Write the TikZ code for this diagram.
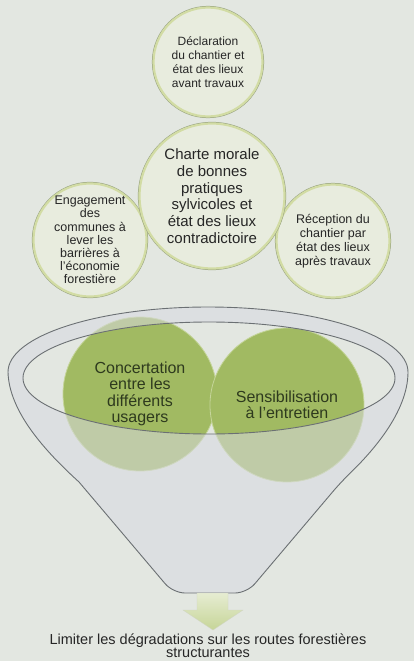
\documentclass[tikz,border=0pt]{standalone}
\usepackage{xcolor}
\usepackage{fontspec}
\setmainfont{Liberation Sans}
\usepackage{tikz}
\usetikzlibrary{positioning}

\definecolor{bgpaper}{HTML}{E3E7E1}
\definecolor{palefill}{HTML}{E8ECDE}
\definecolor{paleband}{HTML}{D2DCA4}
\definecolor{paleedge}{HTML}{97A27F}
\definecolor{leafgreen}{HTML}{A1BA62}
\definecolor{leafedge}{HTML}{C5D59A}
\definecolor{funnelgray}{HTML}{D8DAE1}
\definecolor{funnelline}{HTML}{6B7073}
\definecolor{inkgreen}{HTML}{2E3A1E}
\definecolor{arrowtop}{HTML}{E6ECD2}
\definecolor{arrowbot}{HTML}{C6D597}

\begin{document}
\begin{tikzpicture}[x=1pt, y=-1pt,
  bubble/.style={circle, fill=palefill, draw=paleband, line width=2.2pt,
    preaction={draw=paleedge, line width=3.2pt}, align=center, inner sep=0pt, text=black!85},
  leaf/.style={circle, fill=leafgreen, draw=leafedge, line width=0.8pt, align=center, inner sep=0pt, text=inkgreen},
  rim/.style={draw=funnelline, line width=0.9pt}]
  \fill[bgpaper] (0,0) rectangle (414,661);
  \useasboundingbox (0,0) rectangle (414,661);

  % actions autour de la charte
  \node[bubble, minimum size=109pt, font=\fontsize{12}{14}\selectfont] (decl) at (208,62) {D\'eclaration\\du chantier et\\\'etat des lieux\\avant travaux};
  \node[bubble, minimum size=111pt, font=\fontsize{12.5}{13.2}\selectfont] (engag) at (90,240) {Engagement\\des\\communes \`a\\lever les\\barri\`eres \`a\\l'\'economie\\foresti\`ere};
  \node[bubble, minimum size=113pt, font=\fontsize{12.5}{13.9}\selectfont] (recep) at (333,241) {R\'eception du\\chantier par\\\'etat des lieux\\apr\`es travaux};
  \node[bubble, minimum size=145pt, font=\fontsize{15}{16.7}\selectfont] (charte) at (212,196) {Charte morale\\de bonnes\\pratiques\\sylvicoles et\\\'etat des lieux\\contradictoire};

  % dans l'entonnoir
  \node[leaf, minimum size=154pt, font=\fontsize{16}{16.4}\selectfont] (concert) at (140,394) {Concertation\\entre les\\diff\'erents\\usagers};
  \node[leaf, minimum size=154pt, font=\fontsize{16}{16.4}\selectfont] (sensib) at (287,405) {Sensibilisation\\\`a l'entretien};

  % entonnoir
  \fill[funnelgray, fill opacity=0.55, even odd rule]
    (8,372) .. controls (9,412) and (46,452) .. (79,482)
    [rounded corners=12pt] -- (173,593) -- (247,593) -- (341,482) [sharp corners]
    .. controls (372,452) and (408,412) .. (408,372)
    arc[start angle=0, end angle=-180, x radius=200, y radius=65] -- cycle
    (209,378) ellipse[x radius=186, y radius=56];
  \draw[rim]
    (8,372) .. controls (9,412) and (46,452) .. (79,482)
    [rounded corners=12pt] -- (173,593) -- (247,593) -- (341,482) [sharp corners]
    .. controls (372,452) and (408,412) .. (408,372)
    arc[start angle=0, end angle=-180, x radius=200, y radius=65] -- cycle;
  \draw[rim] (209,378) ellipse[x radius=186, y radius=56];
  \coordinate (fbot) at (213,593);

  % objectif
  \node[align=center, font=\fontsize{14.5}{13.3}\selectfont, text=black!85] (goal) at (208,646) {Limiter les d\'egradations sur les routes foresti\`eres\\structurantes};
  \path[top color=arrowtop, bottom color=arrowbot, draw=arrowbot!70!black!40, line width=0.3pt]
    (fbot) ++(-16,0) -- ++(31,0) -- ++(0,17) -- ++(15,0) -- ++(-30,20) -- ++(-30,-20) -- ++(14,0) -- cycle;
\end{tikzpicture}
\end{document}
